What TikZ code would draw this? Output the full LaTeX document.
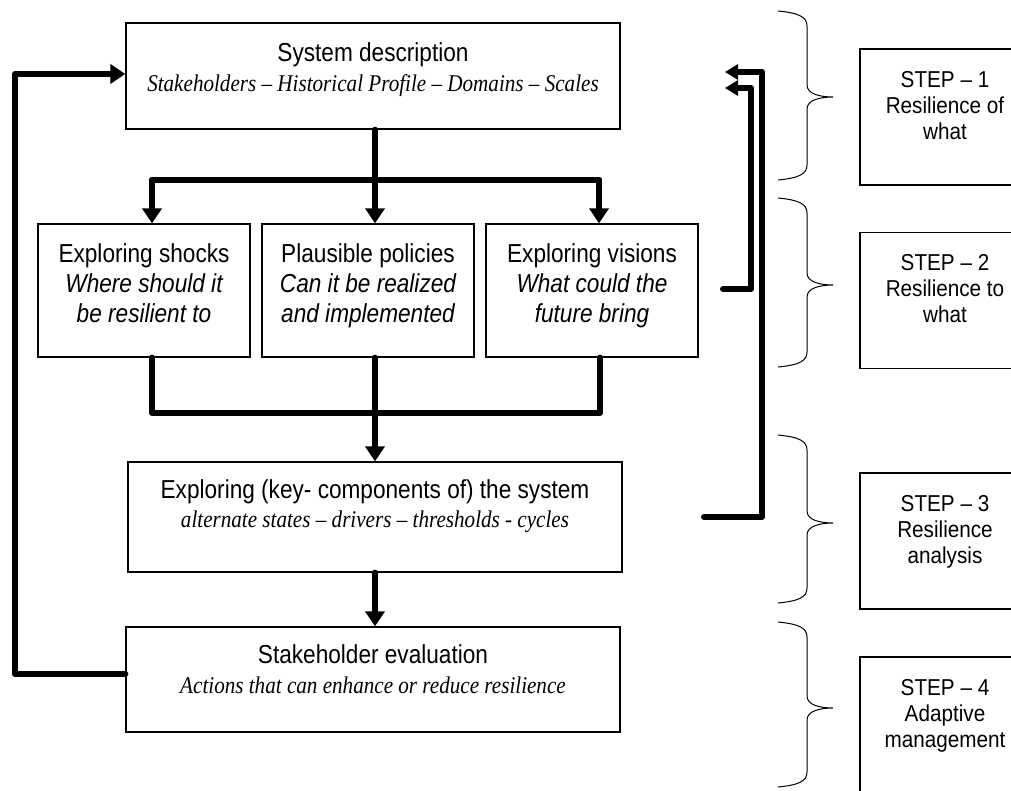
\documentclass[tikz,border=0pt]{standalone}
\usepackage{fontspec}
\setmainfont{Liberation Sans}[FakeStretch=0.87]
\newfontfamily\stepfont{Liberation Sans}[FakeStretch=0.9]
\newfontfamily\timesit{Liberation Serif}[FakeStretch=0.88]
\usetikzlibrary{arrows.meta,calc}

\begin{document}
\begin{tikzpicture}[x=1pt,y=-1pt,
  box/.style={draw,line width=1.3pt,inner sep=0pt,rectangle},
  title/.style={anchor=base,inner sep=0pt,font=\fontsize{26}{30}\selectfont},
  subit/.style={anchor=base,inner sep=0pt,font=\fontsize{26}{30}\selectfont\itshape},
  serit/.style={anchor=base,inner sep=0pt,font=\fontsize{24}{28}\selectfont\timesit\itshape},
  steptxt/.style={anchor=base,inner sep=0pt,font=\fontsize{23}{26}\selectfont\stepfont},
  conn/.style={line width=6pt,line cap=round,line join=round},
  arr/.style={-{Triangle[length=15pt,width=19pt]}},
  arrs/.style={-{Triangle[length=13pt,width=15pt]}},
  brace/.style={line width=1pt},
]
\useasboundingbox (0,0) rectangle (1011,790);
\clip (0,0) rectangle (1011,790);

% main column
\node[box,minimum width=494pt,minimum height=106pt] (sys) at (373,76) {};
\node[title] (sysT) at (373,61) {System description};
\node[serit] (sysS) at (373,91) {Stakeholders – Historical Profile – Domains – Scales};

\node[box,minimum width=212pt,minimum height=133pt] (shk) at (144,290.5) {};
\node[title] (shkT) at (144,262) {Exploring shocks};
\node[subit] (shk1) at (144,292) {Where should it};
\node[subit] (shk2) at (144,322) {be resilient to};

\node[box,minimum width=212pt,minimum height=133pt] (pol) at (368,290.5) {};
\node[title] (polT) at (368,262) {Plausible policies};
\node[subit] (pol1) at (368,292) {Can it be realized};
\node[subit] (pol2) at (368,322) {and implemented};

\node[box,minimum width=212pt,minimum height=133pt] (vis) at (592,290.5) {};
\node[title] (visT) at (592,262) {Exploring visions};
\node[subit] (vis1) at (592,292) {What could the};
\node[subit] (vis2) at (592,322) {future bring};

\node[box,minimum width=494pt,minimum height=110pt] (expl) at (375,517) {};
\node[title] (explT) at (375,498) {Exploring (key- components of) the system};
\node[serit] (explS) at (375,527) {alternate states – drivers – thresholds - cycles};

\node[box,minimum width=494pt,minimum height=105pt] (eval) at (373,679.5) {};
\node[title] (evalT) at (373,663) {Stakeholder evaluation};
\node[serit] (evalS) at (373,693) {Actions that can enhance or reduce resilience};

% step boxes
\foreach \n/\cy/\a/\b in {1/117/Resilience of/what, 2/300.5/Resilience to/what,
                          3/541/Resilience/analysis, 4/725/Adaptive/management}{
  \node[box,minimum width=170pt,minimum height=136pt] (st\n) at (945,\cy) {};
  \node[steptxt] (st\n a) at ($(st\n.north)+(0,39)$) {STEP – \n};
  \node[steptxt] (st\n b) at ($(st\n.north)+(0,65)$) {\a};
  \node[steptxt] (st\n c) at ($(st\n.north)+(0,91)$) {\b};
}

% braces
\foreach \t/\m/\b in {11/97/180, 198/285/367, 435/523/603, 622/708/787}{
  \draw[brace] (778,\t) .. controls (799,\t+2) and (807,\t+6) .. (807,\t+15)
    -- (807,\m-12) .. controls (807,\m-3) and (820,\m) .. (833,\m)
    .. controls (820,\m) and (807,\m+3) .. (807,\m+12)
    -- (807,\b-15) .. controls (807,\b-6) and (799,\b-2) .. (778,\b);
}

% branching connectors
\coordinate (tl) at (152,180);
\coordinate (tm) at (375,180);
\coordinate (tr) at (599,180);
\draw[conn] (tm |- sys.south) -- (tm);
\draw[conn] (tl) -- (tr);
\draw[conn,arr] (tl) -- (tl |- shk.north);
\draw[conn,arr] (tm) -- (tm |- pol.north);
\draw[conn,arr] (tr) -- (tr |- vis.north);

\coordinate (bl) at (152,413);
\coordinate (bm) at (375,413);
\coordinate (br) at (600,413);
\draw[conn] (bl |- shk.south) -- (bl) -- (br) -- (br |- vis.south);
\draw[conn] (bm |- pol.south) -- (bm);
\draw[conn,arr] (bm) -- (bm |- expl.north);
\draw[conn,arr] (bm |- expl.south) -- (bm |- eval.north);

% feedback loop
\coordinate (fbB) at (15,674);
\coordinate (fbT) at (15,74);
\draw[conn,arr] (eval.west |- fbB) -- (fbB) -- (fbT) -- (fbT -| sys.west);

% return arrows on the right
\coordinate (s3a) at (704,517);
\coordinate (s3b) at (762,517);
\coordinate (s1b) at (762,72);
\coordinate (tipA) at (725,72);
\draw[conn,arrs] (s3a) -- (s3b) -- (s1b) -- (tipA);
\coordinate (s2a) at (723,289);
\coordinate (s2b) at (751,289);
\coordinate (s2c) at (751,88);
\coordinate (tipB) at (725,88);
\draw[conn,arrs] (s2a) -- (s2b) -- (s2c) -- (tipB);
\end{tikzpicture}
\end{document}
